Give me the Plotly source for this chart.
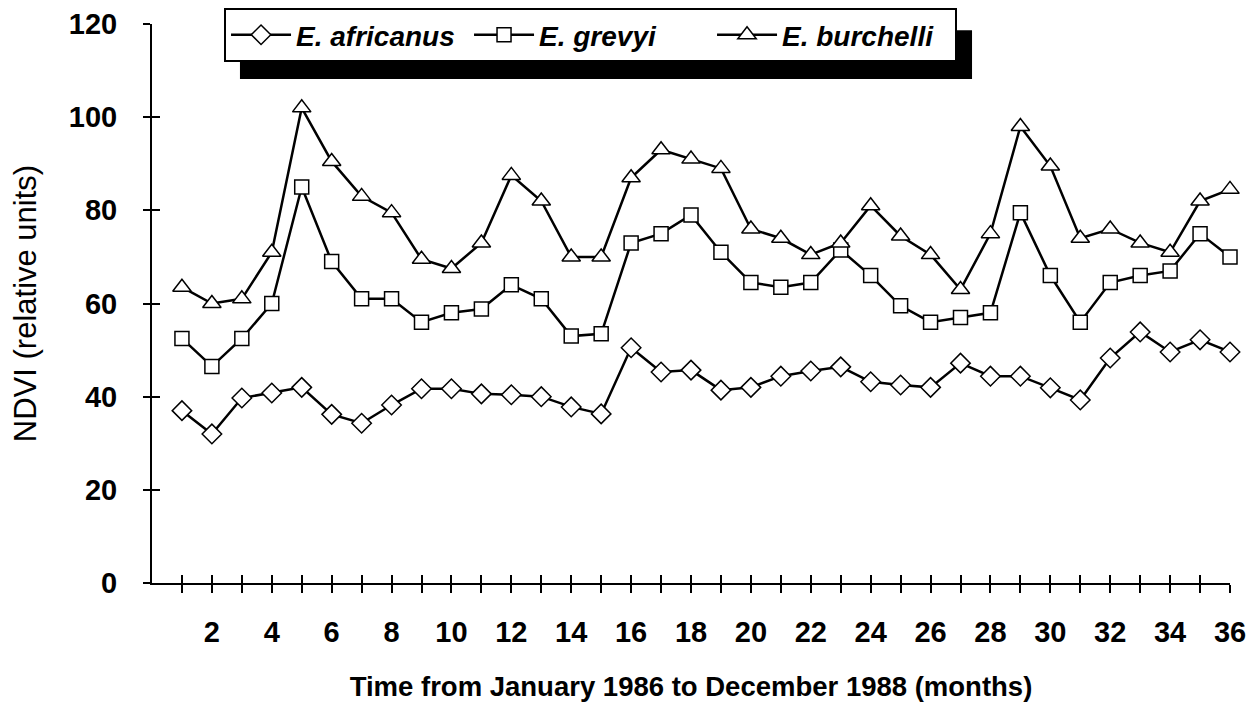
import plotly.graph_objects as go

# Months (x) and NDVI readings for the three zebra ranges
months = [1, 2, 3, 4, 5, 6, 7, 8, 9, 10, 11, 12, 13, 14, 15, 16, 17, 18,
          19, 20, 21, 22, 23, 24, 25, 26, 27, 28, 29, 30, 31, 32, 33, 34, 35, 36]

africanus = [37.0, 32.0, 39.7, 40.8, 42.0, 36.2, 34.3, 38.2, 41.7, 41.7, 40.6, 40.4,
             40.0, 37.8, 36.3, 50.5, 45.3, 45.7, 41.4, 42.0, 44.4, 45.5, 46.4, 43.2,
             42.5, 42.0, 47.2, 44.4, 44.4, 41.9, 39.3, 48.3, 53.9, 49.6, 52.2, 49.6]

grevyi = [52.5, 46.5, 52.5, 60.0, 85.0, 69.0, 61.0, 61.0, 56.0, 58.0, 58.8, 64.0,
          61.0, 53.0, 53.5, 73.0, 75.0, 79.0, 71.0, 64.5, 63.5, 64.5, 71.5, 66.0,
          59.5, 56.0, 57.0, 58.0, 79.5, 66.0, 56.0, 64.5, 66.0, 67.0, 75.0, 70.0]

burchelli = [63.5, 60.0, 61.0, 71.0, 102.0, 90.5, 83.0, 79.5, 69.5, 67.5, 73.0, 87.5,
             82.0, 70.0, 70.0, 87.0, 93.0, 91.0, 89.0, 76.0, 74.0, 70.5, 73.0, 81.0,
             74.5, 70.5, 63.0, 75.0, 98.0, 89.5, 74.0, 76.0, 73.0, 71.0, 82.0, 84.5]

x_tick_vals = [2, 4, 6, 8, 10, 12, 14, 16, 18, 20, 22, 24, 26, 28, 30, 32, 34, 36]
x_tick_labels = ["2", "4", "6", "8", "10", "12", "14", "16", "18", "20", "22", "24",
                 "26", "28", "30", "32", "34", "36"]
x_minor_ticks = [1, 3, 5, 7, 9, 11, 13, 15, 17, 19, 21, 23, 25, 27, 29, 31, 33, 35]
y_tick_vals = [0, 20, 40, 60, 80, 100, 120]

FONT = "Liberation Sans, Arial, sans-serif"

series = [
    ("E. africanus", africanus, "diamond", 15),
    ("E. grevyi", grevyi, "square", 14),
    ("E. burchelli", burchelli, "triangle-up", 16),
]

fig = go.Figure()
for name, vals, sym, size in series:
    fig.add_trace(go.Scatter(
        x=months, y=vals, name=name, mode="lines+markers",
        line=dict(color="black", width=2.5),
        marker=dict(symbol=sym, size=size, color="white",
                    line=dict(color="black", width=1.5)),
        cliponaxis=False,
    ))

# invisible trace on the overlay axes so the crossing ticks get drawn
fig.add_trace(go.Scatter(x=[months[0]], y=[africanus[0]], xaxis="x2", yaxis="y2",
                         mode="markers", marker=dict(opacity=0), showlegend=False,
                         hoverinfo="skip"))

fig.update_layout(
    width=1256, height=702,
    paper_bgcolor="white", plot_bgcolor="white",
    margin=dict(l=144, r=34, t=16, b=127, autoexpand=False),
    font=dict(family=FONT, color="black"),
    showlegend=True,
    legend=dict(
        orientation="h", xref="container", yref="container",
        x=0.172, y=1.0, xanchor="left", yanchor="top",
        bgcolor="white", bordercolor="black", borderwidth=2,
        font=dict(size=28, family=FONT, weight="bold", style="italic"),
        entrywidth=168, itemwidth=60, tracegroupgap=0,
    ),
    xaxis=dict(
        range=[0, 36], showgrid=False, zeroline=False,
        showline=True, linecolor="black", linewidth=2,
        tickmode="array", tickvals=x_tick_vals, ticktext=x_tick_labels,
        ticks="outside", ticklen=8, tickwidth=1.5, tickcolor="black",
        minor=dict(tickmode="array", tickvals=x_minor_ticks, ticks="outside",
                   ticklen=8, tickwidth=1.5, tickcolor="black"),
        ticklabelstandoff=14, ticklabeloverflow="allow",
        tickfont=dict(size=29, family=FONT, weight="bold"),
        title=dict(text="Time from January 1986 to December 1988 (months)",
                   font=dict(size=27.5, family=FONT, weight="bold"), standoff=30),
    ),
    yaxis=dict(
        range=[0, 120], showgrid=False, zeroline=False,
        showline=True, linecolor="black", linewidth=2,
        tickmode="array", tickvals=y_tick_vals,
        ticks="outside", ticklen=7, tickwidth=1.5, tickcolor="black",
        ticklabelstandoff=20, ticklabeloverflow="allow",
        tickfont=dict(size=29, family=FONT, weight="bold"),
        title=dict(text="NDVI (relative units)",
                   font=dict(size=31, family=FONT), standoff=28),
    ),
    xaxis2=dict(
        range=[0, 36], overlaying="x", showgrid=False, zeroline=False,
        showticklabels=False, tickmode="array", tickvals=x_tick_vals,
        ticks="inside", ticklen=8, tickwidth=1.5, tickcolor="black",
        minor=dict(tickmode="array", tickvals=x_minor_ticks, ticks="inside",
                   ticklen=8, tickwidth=1.5, tickcolor="black"),
    ),
    yaxis2=dict(
        range=[0, 120], overlaying="y", showgrid=False, zeroline=False,
        showticklabels=False, tickmode="array", tickvals=y_tick_vals,
        ticks="inside", ticklen=8, tickwidth=1.5, tickcolor="black",
    ),
)

# black drop shadow behind the legend box
fig.add_shape(type="rect", xref="paper", yref="paper",
              x0=0.0816, x1=0.7607, y0=0.9016, y1=0.989,
              fillcolor="black", line=dict(width=0), layer="below")

fig.write_html("out.html")
